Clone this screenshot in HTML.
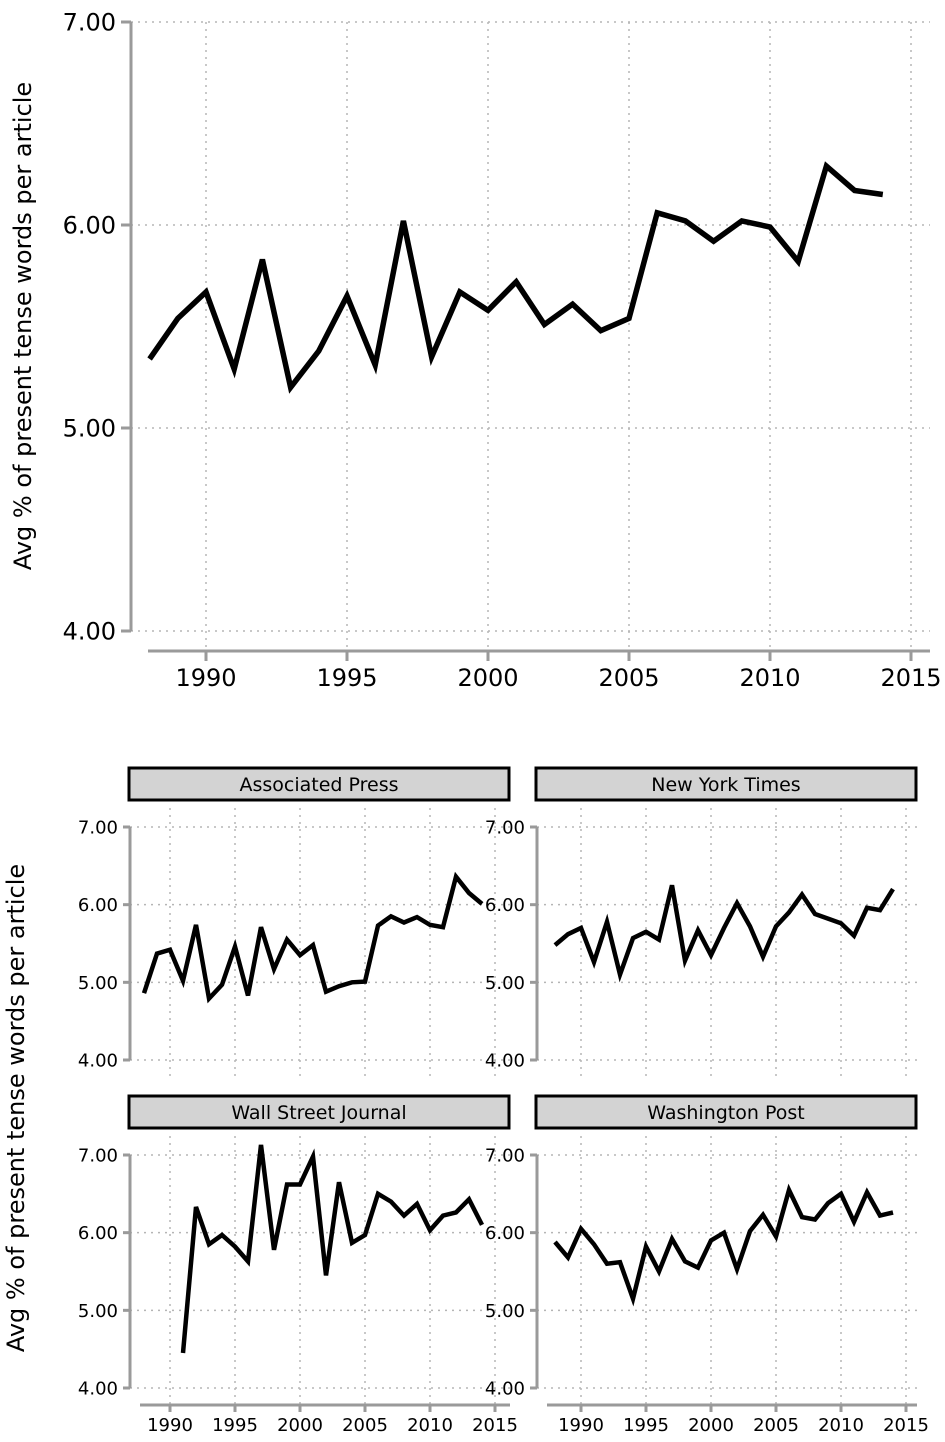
<!DOCTYPE html>
<html><head><meta charset="utf-8"><style>
body{margin:0;background:#fff;}
svg{display:block;font-family:"DejaVu Sans","Liberation Sans",sans-serif;}
</style></head><body>
<svg id="chart" width="945" height="1442" viewBox="0 0 945 1442" xmlns="http://www.w3.org/2000/svg"></svg>
<script>
const years = [1988,1989,1990,1991,1992,1993,1994,1995,1996,1997,1998,1999,2000,2001,2002,2003,2004,2005,2006,2007,2008,2009,2010,2011,2012,2013,2014];
const overall = [5.34,5.54,5.67,5.29,5.83,5.20,5.38,5.65,5.31,6.02,5.35,5.67,5.58,5.72,5.51,5.61,5.48,5.54,6.06,6.02,5.92,6.02,5.99,5.82,6.29,6.17,6.15];
const apValues = [4.86,5.37,5.42,5.02,5.74,4.79,4.97,5.46,4.83,5.71,5.17,5.55,5.35,5.48,4.88,4.95,5.00,5.01,5.73,5.85,5.77,5.84,5.74,5.71,6.36,6.15,6.01];
const nytValues = [5.48,5.62,5.70,5.26,5.78,5.10,5.57,5.65,5.55,6.25,5.28,5.67,5.35,5.70,6.02,5.72,5.33,5.72,5.90,6.13,5.88,5.82,5.76,5.60,5.96,5.93,6.20];
const wsjValues = [null,null,null,4.45,6.33,5.85,5.97,5.82,5.63,7.13,5.78,6.62,6.62,6.98,5.45,6.65,5.87,5.97,6.50,6.40,6.22,6.37,6.03,6.22,6.26,6.43,6.10];
const wapoValues = [5.88,5.68,6.05,5.85,5.60,5.62,5.15,5.82,5.50,5.92,5.63,5.55,5.90,6.00,5.53,6.02,6.23,5.95,6.55,6.20,6.17,6.38,6.50,6.14,6.52,6.22,6.26];
const yTicks = [4,5,6,7];
const yTickLabels = ["4.00","5.00","6.00","7.00"];
const xTicks = [1990,1995,2000,2005,2010,2015];
const panelNames = ["Associated Press","New York Times","Wall Street Journal","Washington Post"];

const svg = document.getElementById('chart');
const NS = "http://www.w3.org/2000/svg";
function mk(tag, attrs, parent){
  const e = document.createElementNS(NS, tag);
  for (const k in attrs) e.setAttribute(k, attrs[k]);
  (parent||svg).appendChild(e);
  return e;
}
const grid = {stroke:"#b5b5b5","stroke-width":1.5,"stroke-dasharray":"2,5"};
const axisC = "#9a9a9a";

function drawPlot(o){
  const sx = yr => o.x0 + (yr-1990)*(o.x1-o.x0)/25;
  const sy = v => o.yBot - (v-4)*(o.yBot-o.yTop)/3;
  const g = mk('g',{});
  
  
  xTicks.forEach(t=>{
    const l = mk('line',Object.assign({x1:sx(t),x2:sx(t),y1:o.gridT,y2:o.xAxisY},grid),g);
    
    
  });
  yTicks.forEach((t,i)=>{
    const l = mk('line',Object.assign({x1:o.gridL,x2:o.gridR,y1:sy(t),y2:sy(t)},grid),g);
    
    
    mk('line',{x1:o.axisX-o.tick,x2:o.axisX,y1:sy(t),y2:sy(t),stroke:axisC,"stroke-width":3},g);
    const tx = mk('text',{x:o.axisX-o.tick-5,y:sy(t)+o.fs*0.36,"text-anchor":"end","font-size":o.fs,fill:"#000"},g);
    tx.textContent = yTickLabels[i];
    
    
  });
  const ya = mk('line',{x1:o.axisX,x2:o.axisX,y1:sy(7),y2:sy(4),stroke:axisC,"stroke-width":3},g);
  
  
  if (o.showX){
    const xa = mk('line',{x1:o.xaL,x2:o.xaR,y1:o.xAxisY,y2:o.xAxisY,stroke:axisC,"stroke-width":3},g);
    
    
    xTicks.forEach(t=>{
      mk('line',{x1:sx(t),x2:sx(t),y1:o.xAxisY,y2:o.xAxisY+o.tick,stroke:axisC,"stroke-width":3},g);
      const tx = mk('text',{x:sx(t),y:o.xAxisY+o.tick+o.fs*1.05,"text-anchor":"middle","font-size":o.fs,fill:"#000"},g);
      tx.textContent = t;
      
      
    });
  }
  let d = ""; let started=false;
  years.forEach((y,i)=>{
    const v = o.values[i];
    if (v===null) return;
    d += (started?"L":"M")+sx(y).toFixed(1)+","+sy(v).toFixed(1);
    started=true;
  });
  const p = mk('path',{d:d,fill:"none",stroke:"#000","stroke-width":o.lw,"stroke-linejoin":"miter"},g);
  
  
}

drawPlot({x0:206,x1:911,yTop:22,yBot:631,axisX:131,xAxisY:651,gridL:131,gridR:930,gridT:22,fs:24,tick:10,values:overall,name:'overall-plot',showX:true,xaL:148,xaR:930,lw:5.5});
const t1 = mk('text',{x:0,y:0,transform:"translate(31,326) rotate(-90)","text-anchor":"middle","font-size":24,fill:"#000"});
t1.textContent = "Avg % of present tense words per article";



const panels = [
  {vals:apValues, left:true, top:true},
  {vals:nytValues, left:false, top:true},
  {vals:wsjValues, left:true, top:false},
  {vals:wapoValues, left:false, top:false}
];
panels.forEach((p,i)=>{
  const xOff = p.left?0:407;
  const dx = p.left?0:4;
  const yTop = p.top?827:1155, yBot = p.top?1060:1388;
  const stripY = p.top?768:1096;
  const s = mk('rect',{x:129+xOff,y:stripY,width:380,height:32,fill:"#d3d3d3",stroke:"#000","stroke-width":3});
  
  
  const st = mk('text',{x:319+xOff,y:stripY+23,"text-anchor":"middle","font-size":19,fill:"#000"});
  st.textContent = panelNames[i];
  
  
  drawPlot({x0:170+xOff+dx,x1:495+xOff+dx,yTop:yTop,yBot:yBot,axisX:130+xOff,xAxisY:yBot+17,gridL:130+xOff,gridR:510+xOff,gridT:stripY+40,fs:18,tick:7,values:p.vals,name:'panel-plot-'+i,showX:!p.top,xaL:140+xOff,xaR:510+xOff,lw:4.5});
});
const t2 = mk('text',{x:0,y:0,transform:"translate(24,1108) rotate(-90)","text-anchor":"middle","font-size":24,fill:"#000"});
t2.textContent = "Avg % of present tense words per article";


</script>
</body></html>
